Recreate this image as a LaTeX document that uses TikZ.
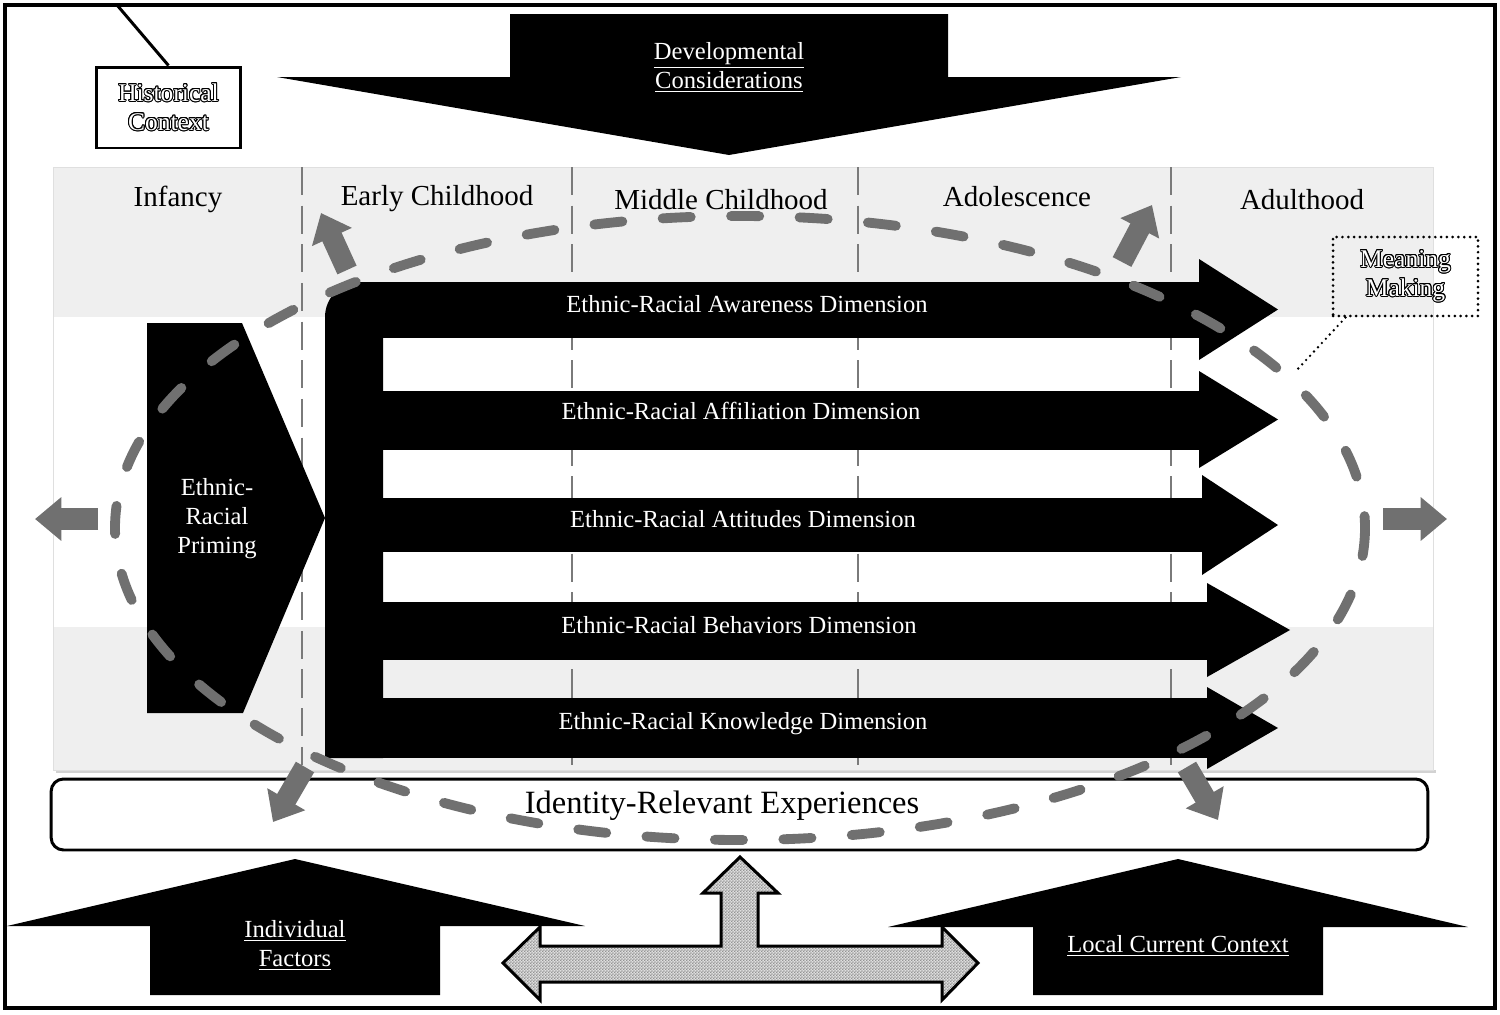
\documentclass[tikz,border=0pt]{standalone}
\usepackage{fontspec}
\setmainfont{Liberation Serif}
\usepackage{contour}
\contourlength{0.55pt}
\usetikzlibrary{arrows.meta,patterns,calc}

\definecolor{bandgray}{RGB}{239,239,239}
\definecolor{ovalgray}{RGB}{112,112,112}
\definecolor{linegray}{RGB}{122,122,122}

\pgfdeclarepatternformonly{finechecks}{\pgfpointorigin}{\pgfqpoint{1.6pt}{1.6pt}}{\pgfqpoint{1.6pt}{1.6pt}}{%
  \pgfpathrectangle{\pgfpointorigin}{\pgfqpoint{0.8pt}{0.8pt}}%
  \pgfpathrectangle{\pgfqpoint{0.8pt}{0.8pt}}{\pgfqpoint{0.8pt}{0.8pt}}%
  \pgfusepath{fill}}

\def\devarrow{(510,14) -- (948,14) -- (948,77) -- (1181,77) -- (729,155) -- (277,77) -- (510,77) -- cycle}
\def\indivarrow{(150,995) -- (150,926) -- (7,926) -- (295,859) -- (585,926) -- (440,926) -- (440,995) -- cycle}
\def\localarrow{(1033,995) -- (1033,927) -- (888,927) -- (1178,859) -- (1468,927) -- (1323,927) -- (1323,995) -- cycle}
\def\linkarrow{(740,857) -- (778,893) -- (758,893) -- (758,946) -- (942,946) -- (942,927) -- (978,963) -- (942,1000) -- (942,982) -- (540,982) -- (540,1000) -- (503,963) -- (540,927) -- (540,946) -- (721,946) -- (721,893) -- (703,893) -- cycle}
\def\primingshape{(147,323) -- (242,323) -- (325,518) -- (243,713) -- (147,713) -- cycle}

% bar top, bar bottom, head top, head bottom, head base, tip
\newcommand{\dimarrow}[6]{%
  \fill (370,#1) rectangle (#5,#2);
  \fill (#5,#3) -- (#6,{(#3+#4)/2}) -- (#5,#4) -- cycle;}
\newcommand{\hollowtext}[1]{\contour{black}{\textcolor{white}{#1}}}

\begin{document}
\begin{tikzpicture}[x=0.02cm, y=-0.02cm,
    stagelabel/.style={font=\fontsize{16.5}{19}\selectfont},
    dimlabel/.style={text=white, font=\fontsize{14}{17}\selectfont},
    whitelabel/.style={text=white, align=center, font=\fontsize{14}{16.5}\selectfont},
    stageline/.style={linegray, line width=1.6pt, dash pattern=on 16pt off 6pt},
    oval/.style={ovalgray, line width=5.6pt, line cap=round, dash pattern=on 16pt off 23pt},
    greyarrow/.style={ovalgray, line width=12pt, -{Triangle[width=24pt,length=15pt]}},
    contextbox/.style={draw, line width=1.7pt, align=center, font=\fontsize{14.5}{16.5}\selectfont}]

	\useasboundingbox (0,0) rectangle (1500,1014);

	% life stages
	\fill[gray!35] (56,770) rectangle (1436,773);
	\fill[bandgray] (53,167) rectangle (1433,770);
	\fill[white] (53,317) rectangle (1433,627);
	\draw[gray!25, line width=0.5pt] (53,167) rectangle (1433,770);
	\draw[stageline] (302,167) -- (302,765);
	\draw[stageline] (572,167) -- (572,765);
	\draw[stageline] (858,167) -- (858,765);
	\draw[stageline] (1171,167) -- (1171,765);
	\node[stagelabel] (infancy) at (178,199) {Infancy};
	\node[stagelabel] (early) at (437,199) {Early Childhood};
	\node[stagelabel] (middle) at (721,200) {Middle Childhood};
	\node[stagelabel] (adolescence) at (1017,197) {Adolescence};
	\node[stagelabel] (adulthood) at (1302,200) {Adulthood};

	% priming and dimensions
	\fill \primingshape;
	\node[whitelabel] (priming) at (217,519) {Ethnic-\\Racial\\Priming};
	\fill (383,758) -- (325,758) -- (325,317) arc[start angle=180, end angle=270, radius=35] -- (383,282) -- cycle;
	\dimarrow{282}{338}{259}{360}{1199}{1278}
	\dimarrow{391}{450}{371}{468}{1199}{1278}
	\dimarrow{498}{552}{475}{575}{1202}{1278}
	\dimarrow{602}{660}{583}{677}{1207}{1290}
	\dimarrow{698}{758}{687}{769}{1207}{1278}
	\node[dimlabel] (awareness) at (747,304) {Ethnic-Racial Awareness Dimension};
	\node[dimlabel] (affiliation) at (741,411) {Ethnic-Racial Affiliation Dimension};
	\node[dimlabel] (attitudes) at (743,519) {Ethnic-Racial Attitudes Dimension};
	\node[dimlabel] (behaviors) at (739,625) {Ethnic-Racial Behaviors Dimension};
	\node[dimlabel] (knowledge) at (743,724) {Ethnic-Racial Knowledge Dimension};

	% experiences
	\node[draw, fill=white, line width=1.7pt, rounded corners=7pt, minimum width=27.54cm, minimum height=1.42cm] (expbox) at (739.5,814.5) {};
	\node[font=\fontsize{18.5}{21}\selectfont] (experiences) at (722,806) {Identity-Relevant Experiences};

	% meaning making loop
	\draw[oval] (740,528) ellipse [x radius=625, y radius=312];
	\coordinate (loopleft) at (98,519);
	\coordinate (loopright) at (1383,519);
	\draw[greyarrow] (loopleft) -- (35,519);
	\draw[greyarrow] (loopright) -- (1447,519);
	\draw[greyarrow] (347,270) -- (321,213);
	\draw[greyarrow] (1122,262) -- (1152,205);
	\draw[greyarrow] (305,767) -- (273,822);
	\draw[greyarrow] (1187,767) -- (1218,820);

	\node[contextbox, line cap=round, dash pattern=on 0pt off 3.3pt, minimum width=2.9cm, minimum height=1.58cm] (meaning) at (1405.5,276.5) {\hollowtext{Meaning}\\\hollowtext{Making}};
	\coordinate (loopdash) at (1295,372);
	\draw[line width=1.5pt, line cap=round, dash pattern=on 0pt off 3.3pt] ($(meaning.south west)+(14,0)$) -- (loopdash);

	% contexts
	\fill \devarrow;
	\node[whitelabel] (developmental) at (729,67) {\underline{Developmental}\\\underline{Considerations}};
	\node[contextbox, minimum width=2.9cm, minimum height=1.62cm] (historical) at (168.5,107.5) {\hollowtext{Historical}\\\hollowtext{Context}};
	\coordinate (histtop) at (117,5);
	\draw[line width=1.7pt] (histtop) -- (historical.north);
	\fill \indivarrow;
	\node[whitelabel] (individual) at (295,945) {\underline{Individual}\\\underline{Factors}};
	\fill \localarrow;
	\node[whitelabel] (local) at (1178,946) {\underline{Local Current Context}};
	\fill[gray!25] \linkarrow;
	\fill[pattern=finechecks, pattern color=gray!85] \linkarrow;
	\draw[line width=1.7pt] \linkarrow;

	\draw[line width=1.8pt] (5,5) rectangle (1495,1008);

\end{tikzpicture}
\end{document}
